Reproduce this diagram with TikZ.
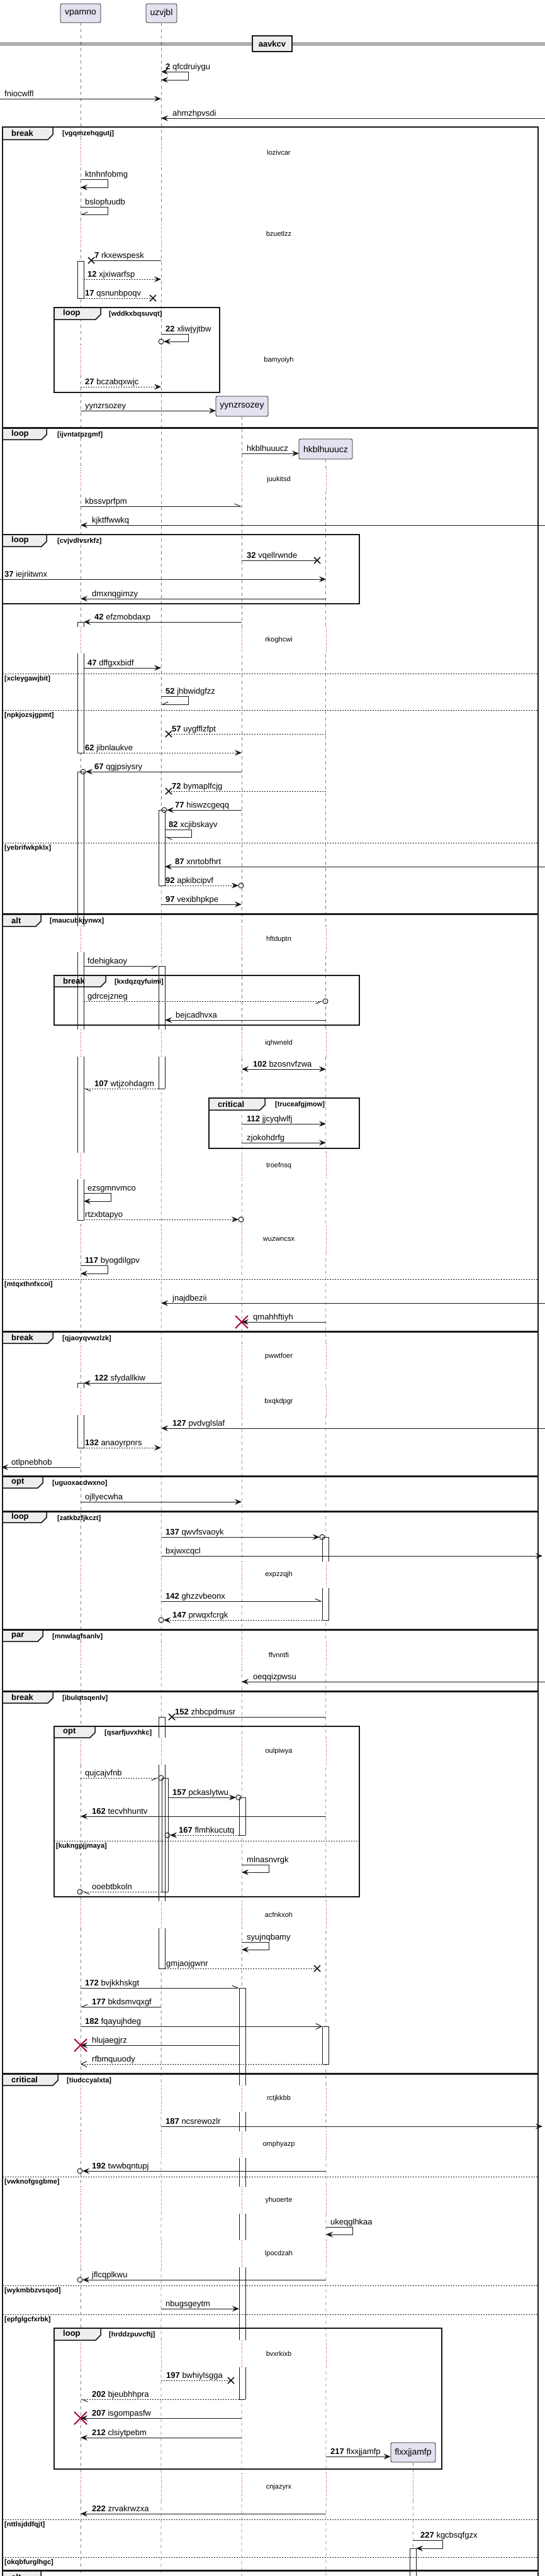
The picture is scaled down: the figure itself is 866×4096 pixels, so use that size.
\documentclass[tikz,border=0pt]{standalone}
\usepackage{fontspec}
\setmainfont{Liberation Sans}
\usetikzlibrary{arrows.meta}
\definecolor{pbox}{HTML}{E2E2F0}
\definecolor{tabfill}{HTML}{EEEEEE}
\definecolor{dred}{HTML}{A80036}
\definecolor{ink}{HTML}{181818}
\tikzset{
  PF/.tip={Stealth[length=11pt,width=9pt,inset=4pt]},
  PH/.tip={Straight Barb[harpoon,length=9pt,width=8pt]},
  PHs/.tip={Straight Barb[harpoon,swap,length=9pt,width=8pt]},
  PO/.tip={Straight Barb[length=9pt,width=9pt]},
  part/.style={draw=ink, fill=pbox, rounded corners=2.5pt, line width=0.8pt, inner sep=0pt, font=\fontsize{14}{16}\selectfont},
  life/.style={draw=black!50, line width=0.8pt, dash pattern=on 5pt off 5pt},
  dline/.style={draw=dred, line width=0.8pt, dash pattern=on 1pt off 2.5pt},
  msg/.style={draw=ink, line width=1pt},
  dmsg/.style={msg, dash pattern=on 2pt off 2pt},
  mlbl/.style={inner sep=0pt, anchor=base west, font=\fontsize{13}{15}\selectfont},
  dlbl/.style={inner sep=0pt, font=\fontsize{11}{13}\selectfont},
  condlbl/.style={inner sep=0pt, font=\bfseries\fontsize{11}{13}\selectfont},
  tablbl/.style={inner sep=0pt, anchor=west, font=\bfseries\fontsize{13}{15}\selectfont},
  frameline/.style={draw=ink, line width=1.5pt},
  sepline/.style={draw=ink, line width=1pt, dash pattern=on 2pt off 2pt},
  barline/.style={draw=ink, line width=0.8pt},
  xline/.style={draw=ink, line width=1.5pt},
  rxline/.style={draw=dred, line width=2pt},
  divbox/.style={draw=ink, fill=tabfill, line width=1.5pt, inner sep=0pt, minimum width=63pt, minimum height=25pt, font=\bfseries\fontsize{13}{15}\selectfont}
}
\newcommand\ml[3]{\node[mlbl] at (#1,#2-4) {#3};}
\newcommand\xmk[2]{\draw[xline] (#1-5,#2-5) -- (#1+5,#2+5) (#1-5,#2+5) -- (#1+5,#2-5);}
\newcommand\rx[2]{\draw[rxline] (#1-10,#2-10) -- (#1+10,#2+10) (#1-10,#2+10) -- (#1+10,#2-10);}
\newcommand\oc[2]{\draw[msg] (#1,#2) circle[radius=4pt];}
\newcommand\actfill[5]{\fill[white] (#1,#2) rectangle (#1+10,#3);}
\newcommand\actline[5]{%
  \draw[barline] (#1,#2) -- (#1,#3) (#1+10,#2) -- (#1+10,#3);
  \ifnum#4=1 \draw[barline] (#1,#2) -- (#1+10,#2);\fi
  \ifnum#5=1 \draw[barline] (#1,#3) -- (#1+10,#3);\fi}
\newcommand\allbars[1]{%
#1{123}{415}{474}{1}{1}
#1{123}{989}{997}{1}{0}
#1{123}{1039}{1197}{0}{1}
#1{123}{1227}{1473}{1}{0}
#1{123}{1514}{1637}{0}{0}
#1{123}{1680}{1833}{0}{0}
#1{123}{1875}{1940}{0}{1}
#1{123}{2199}{2207}{1}{0}
#1{123}{2250}{2302}{0}{1}
#1{252}{1288}{1408}{1}{1}
#1{252}{1536}{1637}{1}{0}
#1{252}{1680}{1731}{0}{1}
#1{252}{2730}{2763}{1}{0}
#1{252}{2806}{3023}{0}{0}
#1{252}{3066}{3130}{0}{1}
#1{257}{2827}{3008}{1}{1}
#1{380}{2858}{2918}{1}{1}
#1{380}{3161}{3316}{1}{0}
#1{380}{3358}{3389}{0}{0}
#1{380}{3431}{3477}{0}{0}
#1{380}{3520}{3562}{0}{0}
#1{380}{3605}{3721}{0}{0}
#1{380}{3764}{3815}{0}{1}
#1{512.5}{2444}{2483}{1}{0}
#1{512.5}{2525}{2576}{0}{1}
#1{512.5}{3222}{3282}{1}{1}
#1{651}{4052}{4110}{1}{0}}
\newcommand\dly[4]{%
  \foreach \xx in {#4}{\fill[white] (\xx-1.5,#1) rectangle (\xx+1.5,#2); \draw[dline] (\xx,#1) -- (\xx,#2);}
  \node[dlbl] at (443,{(#1+#2)/2}) {#3};}
\newcommand\frm[9]{%
  \draw[frameline] (#1,#2) rectangle (#3,#4);
  \filldraw[frameline, fill=tabfill] (#1,#2) -- (#5,#2) -- (#5,#6-8) -- (#5-8,#6) -- (#1,#6) -- cycle;
  \node[tablbl] at (#1+14,{(#2+#6)/2}) {#7};
  \node[condlbl,anchor=west] at (#9,#2+10.5) {#8};}
\newcommand\sepr[4]{%
  \draw[sepline] (#1,#3) -- (#2,#3);
  \node[condlbl,anchor=west] at (#1+3,#3+8.5) {#4};}
\begin{document}
\begin{tikzpicture}[x=1pt,y=-1pt]
\useasboundingbox (0,0) rectangle (866,4096);
\fill[white] (0,0) rectangle (866,4096);
% participants
\node[part, minimum width=64pt, minimum height=30pt] (vp) at (128,21) {vpamno};
\node[part, minimum width=49pt, minimum height=30pt] (uz) at (256.5,21) {uzvjbl};
\node[part, minimum width=83pt, minimum height=32pt] (yy) at (384.5,646) {yynzrsozey};
\node[part, minimum width=85pt, minimum height=32pt] (hk) at (517.5,714) {hkblhuuucz};
\node[part, minimum width=71pt, minimum height=31pt] (fl) at (656.5,3899.5) {flxxjjamfp};
% lifelines
\draw[life] (vp.south) -- (128,4096);
\draw[life] (uz.south) -- (256,4096);
\draw[life] (yy.south) -- (384,4096);
\draw[life] (hk.south) -- (518,4096);
\draw[life] (fl.south) -- (656,4096);
% delays
\dly{222}{264}{lozivcar}{128,256}
\dly{350}{394}{bzuetlzz}{128,256}
\dly{548}{598}{bamyoiyh}{128,256}
\dly{744}{782}{juukitsd}{128,256,384,518}
\dly{997}{1039}{rkoghcwi}{128,256,384,518}
\dly{1473}{1514}{hftduptn}{128,256,384,518}
\dly{1637}{1680}{iqhwneld}{128,256,384,518}
\dly{1833}{1875}{troefnsq}{128,256,384,518}
\dly{1949}{1993}{wuzwncsx}{128,256,384,518}
\dly{2136}{2178}{pwwtfoer}{128,256,384,518}
\dly{2207}{2250}{bxqkdpgr}{128,256,384,518}
\dly{2483}{2525}{expzzqjh}{128,256,384,518}
\dly{2611}{2653}{ffvnntfi}{128,256,384,518}
\dly{2763}{2806}{oulpiwya}{128,256,384,518}
\dly{3023}{3066}{acfnkxoh}{128,256,384,518}
\dly{3316}{3358}{rctjkkbb}{128,256,384,518}
\dly{3389}{3431}{omphyazp}{128,256,384,518}
\dly{3477}{3520}{yhuoerte}{128,256,384,518}
\dly{3562}{3605}{lpocdzah}{128,256,384,518}
\dly{3721}{3764}{bvxrkixb}{128,256,384,518}
\dly{3933}{3976}{cnjazyrx}{128,256,384,518,656}
% activation bar fills
\allbars{\actfill}
% divider
\draw[ink, line width=0.8pt] (0,68) -- (866,68) (0,71) -- (866,71);
\node[divbox] (dv) at (432.5,69.5) {aavkcv};
% frames
\frm{4}{202}{855}{680}{84}{222}{break}{[vgqmzehqgutj]}{99}
\frm{86}{489}{349}{624}{160}{508}{loop}{[wddkxbqsuvqt]}{173}
\frm{4}{681}{855}{1453}{74}{699}{loop}{[ijvntatpzgmf]}{91}
\sepr{4}{855}{1071}{[xcleygawjbit]}
\sepr{4}{855}{1129}{[npkjozsjgpmt]}
\sepr{4}{855}{1340}{[yebrifwkpklx]}
\frm{4}{850}{571}{960}{74}{869}{loop}{[cvjvdlvsrkfz]}{91}
\frm{4}{1454}{855}{2117}{65}{1473}{alt}{[maucubkjynwx]}{79}
\sepr{4}{855}{2034}{[mtqxthnfxcoi]}
\frm{86}{1551}{571}{1630}{168}{1569}{break}{[kxdqzqyfuimi]}{182}
\frm{332}{1746}{571}{1826}{421}{1765}{critical}{[truceafgjmow]}{437}
\frm{4}{2118}{855}{2347}{84}{2136}{break}{[qjaoyqvwzlzk]}{99}
\frm{4}{2348}{855}{2403}{68}{2366}{opt}{[uguoxacdwxno]}{83}
\frm{4}{2404}{855}{2591}{74}{2421}{loop}{[zatkbzfjkczt]}{91}
\frm{4}{2592}{855}{2689}{68}{2610}{par}{[mnwlagfsanlv]}{83}
\frm{4}{2690}{855}{3297}{84}{2708}{break}{[ibulqtsqenlv]}{99}
\frm{86}{2745}{571}{3016}{151}{2763}{opt}{[qsarfjuvxhkc]}{166}
\sepr{86}{571}{2927}{[kukngpjjmaya]}
\frm{4}{3298}{855}{4087}{92}{3316}{critical}{[tiudccyalxta]}{106}
\sepr{4}{855}{3461}{[vwknofgsgbme]}
\sepr{4}{855}{3634}{[wykmbbzvsqod]}
\sepr{4}{855}{3680}{[epfglgcfxrbk]}
\sepr{4}{855}{4006}{[nttlsjddfqjt]}
\sepr{4}{855}{4066}{[okqbfurglhgc]}
\frm{86}{3702}{702}{3926}{160}{3721}{loop}{[hrddzpuvcftj]}{173}
\draw[frameline] (4,4110) -- (4,4088) -- (855,4088) -- (855,4110);
\filldraw[frameline, fill=tabfill] (4,4088) -- (65,4088) -- (65,4099) -- (57,4107) -- (4,4107) -- cycle;
\node[tablbl] at (18,4097.5) {alt};
% activation bar outlines
\allbars{\actline}
% messages
\draw[msg,{PF}-{PF}] (256,114) -- (299,114) -- (299,127) -- (256,127); \ml{263}{114}{\textbf{2} qfcdruiygu}
\draw[msg,-{PF}] (0,157) -- (256,157); \ml{7}{157}{fniocwlfl}
\draw[msg,-{PF}] (866,188) -- (256,188); \ml{274}{188}{ahmzhpvsdi}
\draw[msg,-{PF}] (128,285) -- (171,285) -- (171,298) -- (128,298); \ml{135}{285}{ktnhnfobmg}
\draw[msg,-{PHs}] (128,329) -- (171,329) -- (171,341) -- (128,341); \ml{135}{329}{bslopfuudb}
\draw[msg] (256,414) -- (145,414); \xmk{145}{414} \ml{150}{414}{\textbf{7} rkxewspesk}
\draw[dmsg,-{PF}] (133,444) -- (256,444); \ml{139}{444}{\textbf{12} xjxiwarfsp}
\draw[dmsg] (133,474) -- (243,474); \xmk{243}{474} \ml{135}{474}{\textbf{17} qsnunbpoqv}
\draw[msg,-{PF}] (256,531) -- (299,531) -- (299,543) -- (260,543); \oc{256}{543} \ml{263}{531}{\textbf{22} xliwjyjtbw}
\draw[dmsg,-{PF}] (128,615) -- (256,615); \ml{135}{615}{\textbf{27} bczabqxwjc}
\draw[msg,-{PF}] (128,653) -- (343,653); \ml{135}{653}{yynzrsozey}
\draw[msg,-{PF}] (384,721) -- (475,721); \ml{392}{721}{hkblhuuucz}
\draw[msg,-{PH}] (128,805) -- (384,805); \ml{135}{805}{kbssvprfpm}
\draw[msg,-{PF}] (866,835) -- (128,835); \ml{146}{835}{kjktffwwkq}
\draw[msg] (384,891) -- (504,891); \xmk{504}{891} \ml{392}{891}{\textbf{32} vqellrwnde}
\draw[msg,-{PF}] (0,921) -- (518,921); \ml{7}{921}{\textbf{37} iejriitwnx}
\draw[msg,-{PF}] (518,952) -- (128,952); \ml{146}{952}{dmxnqgimzy}
\draw[msg,-{PF}] (384,989) -- (133,989); \ml{150}{989}{\textbf{42} efzmobdaxp}
\draw[msg,-{PF}] (133,1062) -- (256,1062); \ml{139}{1062}{\textbf{47} dffgxxbidf}
\draw[msg,-{PHs}] (256,1107) -- (299,1107) -- (299,1120) -- (256,1120); \ml{263}{1107}{\textbf{52} jhbwidgfzz}
\draw[dmsg] (518,1167) -- (268,1167); \xmk{268}{1167} \ml{273}{1167}{\textbf{57} uygfflzfpt}
\draw[dmsg,-{PF}] (133,1197) -- (384,1197); \ml{135}{1197}{\textbf{62} jibnlaukve}
\draw[msg,-{PF}] (384,1227) -- (136,1227); \oc{132}{1227} \ml{150}{1227}{\textbf{67} qgjpsiysry}
\draw[dmsg] (518,1258) -- (268,1258); \xmk{268}{1258} \ml{273}{1258}{\textbf{72} bymaplfcjg}
\draw[msg,-{PF}] (384,1288) -- (265,1288); \oc{261}{1288} \ml{278}{1288}{\textbf{77} hiswzcgeqq}
\draw[msg,-{PH}] (262,1319) -- (304,1319) -- (304,1331) -- (262,1331); \ml{268}{1319}{\textbf{82} xcjibskayv}
\draw[msg,-{PF}] (866,1378) -- (262,1378); \ml{278}{1378}{\textbf{87} xnrtobfhrt}
\draw[dmsg,-{PF}] (262,1408) -- (379,1408); \oc{383}{1408} \ml{263}{1408}{\textbf{92} apkibcipvf}
\draw[msg,-{PF}] (256,1438) -- (384,1438); \ml{263}{1438}{\textbf{97} vexibhpkpe}
\draw[msg,-{PHs}] (133,1536) -- (252,1536); \ml{139}{1536}{fdehigkaoy}
\draw[dmsg,-{PHs}] (133,1592) -- (513,1592); \oc{517}{1592} \ml{139}{1592}{gdrcejzneg}
\draw[msg,-{PF}] (518,1622) -- (262,1622); \ml{279}{1622}{bejcadhvxa}
\draw[msg,{PF}-{PF}] (384,1700) -- (518,1700); \ml{402}{1700}{\textbf{102} bzosnvfzwa}
\draw[dmsg,-{PH}] (252,1731) -- (133,1731); \ml{150}{1731}{\textbf{107} wtjzohdagm}
\draw[msg,-{PF}] (384,1787) -- (518,1787); \ml{392}{1787}{\textbf{112} jjcyqlwlfj}
\draw[msg,-{PF}] (384,1817) -- (518,1817); \ml{392}{1817}{zjokohdrfg}
\draw[msg,-{PF}] (133,1897) -- (176,1897) -- (176,1910) -- (133,1910); \ml{139}{1897}{ezsgmnvmco}
\draw[dmsg,-{PF}] (133,1939) -- (379,1939); \oc{383}{1939} \ml{135}{1939}{rtzxbtapyo}
\draw[msg,-{PF}] (128,2012) -- (171,2012) -- (171,2025) -- (128,2025); \ml{135}{2012}{\textbf{117} byogdilgpv}
\draw[msg,-{PF}] (866,2072) -- (256,2072); \ml{274}{2072}{jnajdbezii}
\draw[msg,-{PF}] (518,2102) -- (384,2102); \rx{384}{2102} \ml{402}{2102}{qmahhftiyh}
\draw[msg,-{PF}] (256,2199) -- (133,2199); \ml{150}{2199}{\textbf{122} sfydallkiw}
\draw[msg,-{PF}] (866,2271) -- (256,2271); \ml{274}{2271}{\textbf{127} pvdvglslaf}
\draw[dmsg,-{PF}] (133,2302) -- (256,2302); \ml{135}{2302}{\textbf{132} anaoyrpnrs}
\draw[msg,-{PF}] (128,2333) -- (2,2333); \ml{18}{2333}{otlpnebhob}
\draw[msg,-{PF}] (128,2388) -- (384,2388); \ml{135}{2388}{ojllyecwha}
\draw[msg,-{PF}] (256,2444) -- (508,2444); \oc{512}{2444} \ml{263}{2444}{\textbf{137} qwvfsvaoyk}
\draw[msg,-{PF}] (256,2474) -- (862,2474); \ml{263}{2474}{bxjwxcqcl}
\draw[msg,-{PH}] (256,2546) -- (512,2546); \ml{263}{2546}{\textbf{142} ghzzvbeonx}
\draw[dmsg,-{PF}] (512,2576) -- (260,2576); \oc{256}{2576} \ml{274}{2576}{\textbf{147} prwqxfcrgk}
\draw[msg,-{PF}] (866,2674) -- (384,2674); \ml{402}{2674}{oeqqizpwsu}
\draw[msg] (518,2730) -- (273,2730); \xmk{273}{2730} \ml{278}{2730}{\textbf{152} zhbcpdmusr}
\draw[dmsg,-{PHs}] (128,2827) -- (252,2827); \oc{256}{2827} \ml{135}{2827}{qujcajvfnb}
\draw[msg,-{PF}] (267,2858) -- (375,2858); \oc{379}{2858} \ml{274}{2858}{\textbf{157} pckaslytwu}
\draw[msg,-{PF}] (518,2888) -- (128,2888); \ml{146}{2888}{\textbf{162} tecvhhuntv}
\draw[dmsg,-{PF}] (380,2918) -- (270,2918); \oc{266}{2918} \ml{284}{2918}{\textbf{167} flmhkucutq}
\draw[msg,-{PF}] (384,2965) -- (427,2965) -- (427,2977) -- (384,2977); \ml{392}{2965}{mlnasnvrgk}
\draw[dmsg,-{PH}] (257,3008) -- (131,3008); \oc{127}{3008} \ml{146}{3008}{ooebtbkoln}
\draw[msg,-{PF}] (384,3088) -- (427,3088) -- (427,3100) -- (384,3100); \ml{392}{3088}{syujnqbamy}
\draw[dmsg] (262,3130) -- (504,3130); \xmk{504}{3130} \ml{264}{3130}{gmjaojgwnr}
\draw[msg,-{PH}] (128,3161) -- (380,3161); \ml{135}{3161}{\textbf{172} bvjkkhskgt}
\draw[msg,-{PHs}] (256,3191) -- (128,3191); \ml{146}{3191}{\textbf{177} bkdsmvqxgf}
\draw[msg,-{PO}] (128,3222) -- (512,3222); \ml{135}{3222}{\textbf{182} fqayujhdeg}
\draw[msg,-{PF}] (380,3252) -- (128,3252); \rx{128}{3252} \ml{146}{3252}{hlujaegjrz}
\draw[dmsg,-{PO}] (512,3282) -- (128,3282); \ml{146}{3282}{rfbmquuody}
\draw[msg,-{PF}] (256,3381) -- (862,3381); \ml{263}{3381}{\textbf{187} ncsrewozlr}
\draw[msg,-{PF}] (518,3452) -- (131,3452); \oc{127}{3452} \ml{146}{3452}{\textbf{192} twwbqntupj}
\draw[msg,-{PF}] (518,3541) -- (560,3541) -- (560,3553) -- (518,3553); \ml{525}{3541}{ukeqglhkaa}
\draw[msg,-{PF}] (518,3625) -- (131,3625); \oc{127}{3625} \ml{146}{3625}{jflcqplkwu}
\draw[msg,-{PF}] (256,3671) -- (380,3671); \ml{263}{3671}{nbugsgeytm}
\draw[dmsg] (256,3785) -- (367,3785); \xmk{367}{3785} \ml{264}{3785}{\textbf{197} bwhiylsgga}
\draw[dmsg,-{PH}] (380,3815) -- (128,3815); \ml{146}{3815}{\textbf{202} bjeubhhpra}
\draw[msg,-{PF}] (384,3845) -- (128,3845); \rx{128}{3845} \ml{146}{3845}{\textbf{207} isgompasfw}
\draw[msg,-{PF}] (384,3876) -- (128,3876); \ml{146}{3876}{\textbf{212} clsiytpebm}
\draw[msg,-{PF}] (518,3906) -- (fl.west |- 0,3906); \ml{525}{3906}{\textbf{217} flxxjjamfp}
\draw[msg,-{PF}] (518,3997) -- (128,3997); \ml{146}{3997}{\textbf{222} zrvakrwzxa}
\draw[msg,-{PF}] (656,4039) -- (703,4039) -- (703,4052) -- (661,4052); \ml{668}{4039}{\textbf{227} kgcbsqfgzx}
\end{tikzpicture}
\end{document}
